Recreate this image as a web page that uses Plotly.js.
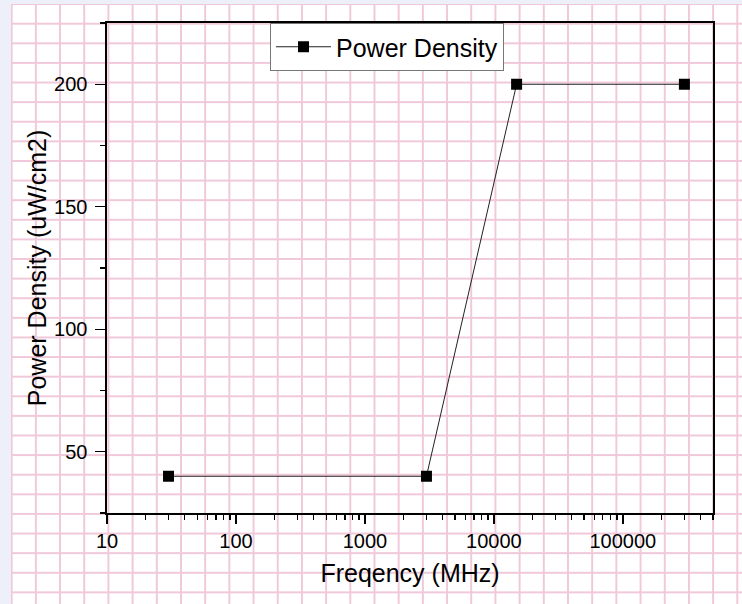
<!DOCTYPE html>
<html>
<head>
<meta charset="utf-8">
<script src="https://cdn.plot.ly/plotly-3.0.1.min.js"></script>
<style>
  html, body { margin: 0; padding: 0; width: 742px; height: 604px; overflow: hidden; background: #edf0f8; }
  #paper {
    position: absolute; left: 11px; top: 4px; width: 731px; height: 600px;
    background-color: #ffffff;
    background-image:
      linear-gradient(to right, #f0c8d9 1.5px, transparent 1.5px),
      linear-gradient(to bottom, #f0c8d9 1.5px, transparent 1.5px);
    background-size: 24.2px 19.62px;
    background-position: -0.3px -0.9px;
  }
  #chart { position: absolute; left: 0; top: 0; width: 742px; height: 604px; }
</style>
</head>
<body>
<div id="paper"></div>
<div id="chart"></div>
<script>
  // Data
  const frequencyMHz = [30, 3000, 15000, 300000];
  const powerDensity = [40, 40, 200, 200];
  const seriesName = 'Power Density';
  const xTitle = 'Freqency (MHz)';
  const yTitle = 'Power Density (uW/cm2)';

  const font = 'Liberation Sans, Arial, Helvetica, sans-serif';

  const trace = {
    x: frequencyMHz,
    y: powerDensity,
    name: seriesName,
    type: 'scatter',
    mode: 'lines+markers',
    line: { color: '#222222', width: 1 },
    marker: { symbol: 'square', size: 11, color: '#000000' },
    showlegend: true
  };

  const layout = {
    width: 742,
    height: 604,
    margin: { l: 107, r: 29, t: 23, b: 91, pad: 0 },
    paper_bgcolor: 'rgba(0,0,0,0)',
    plot_bgcolor: 'rgba(0,0,0,0)',
    font: { family: font, color: '#000000', size: 20 },
    showlegend: true,
    legend: {
      x: 0.269, y: 1.0, xanchor: 'left', yanchor: 'top',
      bgcolor: '#ffffff', bordercolor: '#777777', borderwidth: 1,
      font: { family: font, size: 25, color: '#000000' },
      itemwidth: 55,
      tracegroupgap: 0
    },
    xaxis: {
      type: 'log',
      range: [1, Math.log10(500000)],
      dtick: 1,
      tickformat: 'd',
      exponentformat: 'none',
      showgrid: false,
      zeroline: false,
      showline: true, mirror: true, linecolor: '#000000', linewidth: 1.6,
      ticks: 'outside', ticklen: 9, tickwidth: 1.4, tickcolor: '#000000',
      minor: { dtick: 'D1', ticks: 'outside', ticklen: 5, tickwidth: 1.2, tickcolor: '#000000', showgrid: false },
      tickfont: { family: font, size: 20, color: '#000000' },
      title: { text: xTitle, font: { family: font, size: 25, color: '#000000' }, standoff: 14 },
      automargin: false
    },
    yaxis: {
      range: [25, 225],
      tick0: 0, dtick: 50,
      showgrid: false,
      zeroline: false,
      showline: true, mirror: true, linecolor: '#000000', linewidth: 1.6,
      ticks: 'outside', ticklen: 10, tickwidth: 1.4, tickcolor: '#000000',
      minor: { dtick: 25, ticks: 'outside', ticklen: 5, tickwidth: 1.2, tickcolor: '#000000', showgrid: false },
      tickfont: { family: font, size: 20, color: '#000000' },
      ticklabelstandoff: 4,
      title: { text: yTitle, font: { family: font, size: 25, color: '#000000' }, standoff: 0 },
      automargin: false
    }
  };

  Plotly.newPlot('chart', [trace], layout, { displayModeBar: false, staticPlot: true });
</script>
</body>
</html>
